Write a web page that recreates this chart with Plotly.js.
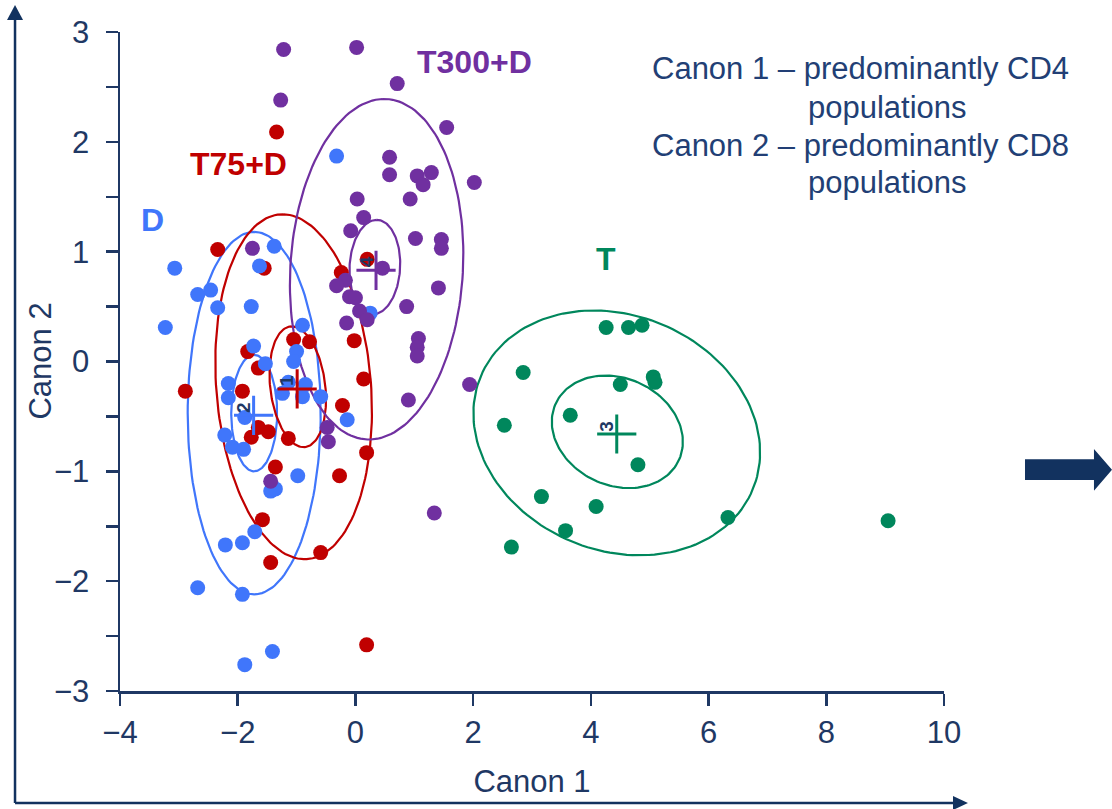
<!DOCTYPE html>
<html>
<head>
<meta charset="utf-8">
<script src="https://cdn.plot.ly/plotly-3.0.1.min.js"></script>
<style>
  html, body { margin: 0; padding: 0; background: #ffffff; }
  #chart { width: 1112px; height: 809px; }
</style>
</head>
<body>
<div id="chart"></div>
<script>
// Canonical scores per treatment group
const dX = [-0.32, -3.07, -1.38, -1.63, -2.68, -2.46, -2.34, -1.77, -3.23, -0.90, -1.73, -1.00, -1.05, -1.53, -2.16, -2.16, -1.14, -1.24, -0.85, -0.90, -0.59, -1.88, -0.14, -2.22, -2.09, -1.90, -0.98, -1.44, -1.36, -1.71, -2.21, -1.92, -2.68, -1.92, -1.41, -1.88, 0.25];
const dY = [1.87, 0.85, 1.05, 0.87, 0.61, 0.65, 0.49, 0.50, 0.31, 0.33, 0.14, 0.09, 0.00, -0.02, -0.20, -0.33, -0.19, -0.29, -0.21, -0.32, -0.32, -0.51, -0.53, -0.67, -0.78, -0.80, -1.04, -1.18, -1.16, -1.55, -1.67, -1.65, -2.06, -2.12, -2.64, -2.76, 0.44];

const t75X = [-1.34, -2.34, -1.55, -0.24, 0.20, -1.05, -0.78, -1.83, -1.65, -2.89, -1.92, 0.14, -0.02, -0.22, -1.65, -1.48, -1.77, -1.14, 0.19, -1.36, -0.27, -1.58, -0.59, -1.44, 0.19];
const t75Y = [2.09, 1.02, 0.85, 0.81, 0.93, 0.20, 0.18, 0.09, -0.06, -0.27, -0.27, -0.16, 0.19, -0.40, -0.60, -0.64, -0.69, -0.70, -0.83, -0.96, -1.04, -1.44, -1.74, -1.83, -2.58];

const t300X = [-1.22, 0.02, 0.71, -1.27, 1.55, 0.58, 0.58, 1.05, 1.29, 1.15, 2.02, 0.03, 0.93, 0.14, -0.08, 1.02, 1.46, 1.46, 0.46, 1.41, -0.17, -0.32, -0.10, 0.00, 0.07, 0.20, -0.15, 0.87, 1.07, 1.05, 1.05, 1.94, 0.90, -0.48, -0.46, 1.34, -1.75, -1.44];
const t300Y = [2.84, 2.86, 2.53, 2.38, 2.13, 1.86, 1.70, 1.69, 1.72, 1.61, 1.63, 1.48, 1.48, 1.31, 1.19, 1.12, 1.11, 1.03, 0.85, 0.67, 0.74, 0.69, 0.59, 0.58, 0.46, 0.38, 0.35, 0.50, 0.21, 0.13, 0.05, -0.21, -0.35, -0.60, -0.73, -1.38, 1.03, -1.09];

const tX = [4.26, 4.64, 4.87, 2.85, 5.06, 5.09, 4.50, 3.65, 2.53, 4.80, 3.16, 4.09, 3.57, 2.65, 6.33, 9.05];
const tY = [0.31, 0.31, 0.33, -0.10, -0.14, -0.19, -0.21, -0.49, -0.58, -0.94, -1.23, -1.32, -1.54, -1.69, -1.42, -1.45];

// Group centroids (numbered 1-4)
const centroidLabels = ['1', '2', '3', '4'];
const centroidX = [-0.99, -1.73, 4.44, 0.35];
const centroidY = [-0.25, -0.49, -0.66, 0.83];

// Contour ellipses: [centre x, centre y, upper half-axis dx, dy, side half-axis dx, dy]
const t75Outer  = [-1.05, -0.23, -0.17, 1.57, 1.32, -0.02];
const t75Inner  = [-0.98, -0.23, -0.10, 0.55, 0.47, 0.00];
const dOuter    = [-1.72, -0.47, 0.00, 1.65, 1.13, 0.00];
const dInner    = [-1.72, -0.47, 0.00, 0.53, 0.39, 0.00];
const t300Outer = [0.36, 0.84, 0.10, 1.55, 1.47, 0.03];
const t300Inner = [0.33, 0.86, 0.03, 0.43, 0.43, 0.00];
const tOuter    = [4.44, -0.65, -0.17, 1.11, 2.43, -0.10];
const tInner    = [4.45, -0.64, -0.09, 0.51, 1.11, -0.05];

const groupNames = ['D', 'T75+D', 'T300+D', 'T'];

const BLUE = '#4076fb', RED = '#c00000', PURPLE = '#7030a0', GREEN = '#00875c';
const NAVY = '#1f3864', DARK = '#12325f';
const FONT = 'Liberation Sans, Arial, sans-serif';

function ellipseTrace(p, color) {
  const xs = [], ys = [];
  const n = 160;
  for (let i = 0; i <= n; i++) {
    const t = 2 * Math.PI * i / n;
    xs.push(p[0] + p[2] * Math.cos(t) + p[4] * Math.sin(t));
    ys.push(p[1] + p[3] * Math.cos(t) + p[5] * Math.sin(t));
  }
  return { x: xs, y: ys, type: 'scatter', mode: 'lines',
           line: { color: color, width: 2.2 }, hoverinfo: 'skip', showlegend: false };
}

function pointsTrace(x, y, color, name) {
  return { x: x, y: y, type: 'scatter', mode: 'markers', name: name,
           marker: { color: color, size: 15, line: { width: 0 } }, showlegend: false };
}

const centroidColors = [RED, BLUE, GREEN, PURPLE];

const traces = [
  ellipseTrace(dOuter, BLUE), ellipseTrace(dInner, BLUE),
  ellipseTrace(t75Outer, RED), ellipseTrace(t75Inner, RED),
  ellipseTrace(t300Outer, PURPLE), ellipseTrace(t300Inner, PURPLE),
  ellipseTrace(tOuter, GREEN), ellipseTrace(tInner, GREEN),
  pointsTrace(t75X, t75Y, RED, groupNames[1]),
  pointsTrace(dX, dY, BLUE, groupNames[0]),
  pointsTrace(t300X, t300Y, PURPLE, groupNames[2]),
  pointsTrace(tX, tY, GREEN, groupNames[3]),
  { x: centroidX, y: centroidY, type: 'scatter', mode: 'markers',
    marker: { symbol: 'cross-thin', size: 28, line: { width: 3, color: centroidColors } },
    hoverinfo: 'skip', showlegend: false }
];

const annotations = [];
// Group names
const groupLabelX = [-3.45, -1.98, 2.02, 4.26];
const groupLabelY = [1.29, 1.80, 2.73, 0.93];
const groupColors = [BLUE, RED, PURPLE, GREEN];
groupNames.forEach((g, i) => {
  annotations.push({ x: groupLabelX[i], y: groupLabelY[i], xref: 'x', yref: 'y', text: '<b>' + g + '</b>',
    showarrow: false, font: { family: FONT, size: 32, color: groupColors[i] } });
});
// Centroid numbers
centroidLabels.forEach((s, i) => {
  annotations.push({ x: centroidX[i], y: centroidY[i], xref: 'x', yref: 'y', text: '<b>' + s + '</b>',
    showarrow: false, textangle: -90, xshift: -10, yshift: 8,
    font: { family: FONT, size: 19, color: NAVY } });
});
// Notes on the canonical axes
const noteLines = ['Canon 1 \u2013 predominantly CD4', 'populations', 'Canon 2 \u2013 predominantly CD8', 'populations'];
const noteX = [0.899, 0.9315, 0.899, 0.9315];
const noteY = [0.945, 0.886, 0.8285, 0.771];
noteLines.forEach((s, i) => {
  annotations.push({ x: noteX[i], y: noteY[i], xref: 'paper', yref: 'paper', text: s,
    showarrow: false, xanchor: 'center', yanchor: 'middle',
    font: { family: FONT, size: 31, color: '#223f75' } });
});
// Vertical axis title
annotations.push({ x: -0.097, y: 0.5, xref: 'paper', yref: 'paper', text: 'Canon 2',
  showarrow: false, textangle: -90, xanchor: 'center', yanchor: 'middle',
  font: { family: FONT, size: 31, color: NAVY } });

const shapes = [
  // framing arrows
  { type: 'line', xref: 'paper', yref: 'paper', x0: -0.1274, x1: -0.1274, y0: -0.1700, y1: 1.0190,
    line: { color: DARK, width: 2.5 } },
  { type: 'path', xref: 'paper', yref: 'paper', path: 'M -0.1371 1.0182 L -0.1177 1.0182 L -0.1274 1.0410 Z',
    fillcolor: DARK, line: { width: 0 } },
  { type: 'line', xref: 'paper', yref: 'paper', x0: -0.1274, x1: 1.0115, y0: -0.1700, y1: -0.1700,
    line: { color: DARK, width: 2.5 } },
  { type: 'path', xref: 'paper', yref: 'paper', path: 'M 1.0109 -0.1594 L 1.0109 -0.1806 L 1.0291 -0.1700 Z',
    fillcolor: DARK, line: { width: 0 } },
  // block arrow on the right
  { type: 'path', xref: 'paper', yref: 'paper',
    path: 'M 1.0983 0.3516 L 1.1820 0.3516 L 1.1820 0.3672 L 1.2039 0.3358 L 1.1820 0.3039 L 1.1820 0.3202 L 1.0983 0.3202 Z',
    fillcolor: DARK, line: { width: 0 } }
];

const axisCommon = {
  showgrid: false, zeroline: false, showline: true, linecolor: NAVY, linewidth: 2.5,
  ticks: 'outside', ticklen: 12, tickwidth: 2.5, tickcolor: NAVY,
  tickfont: { family: FONT, size: 31, color: NAVY }, fixedrange: true
};

const layout = {
  width: 1112, height: 809,
  margin: { l: 120, r: 168, t: 32, b: 118, pad: 0 },
  paper_bgcolor: '#ffffff', plot_bgcolor: '#ffffff',
  showlegend: false,
  xaxis: Object.assign({}, axisCommon, {
    range: [-4, 10], dtick: 2, tick0: 0, ticklabelstandoff: 0,
    title: { text: 'Canon 1', font: { family: FONT, size: 31, color: NAVY }, standoff: 22 }
  }),
  yaxis: Object.assign({}, axisCommon, {
    range: [-3, 3], dtick: 1, tick0: 0, ticklabelstandoff: 10,
    minor: { dtick: 0.5, ticks: 'outside', ticklen: 12, tickwidth: 2.5, tickcolor: NAVY, showgrid: false }
  }),
  annotations: annotations,
  shapes: shapes
};

Plotly.newPlot('chart', traces, layout, { displayModeBar: false, staticPlot: true });
</script>
</body>
</html>
